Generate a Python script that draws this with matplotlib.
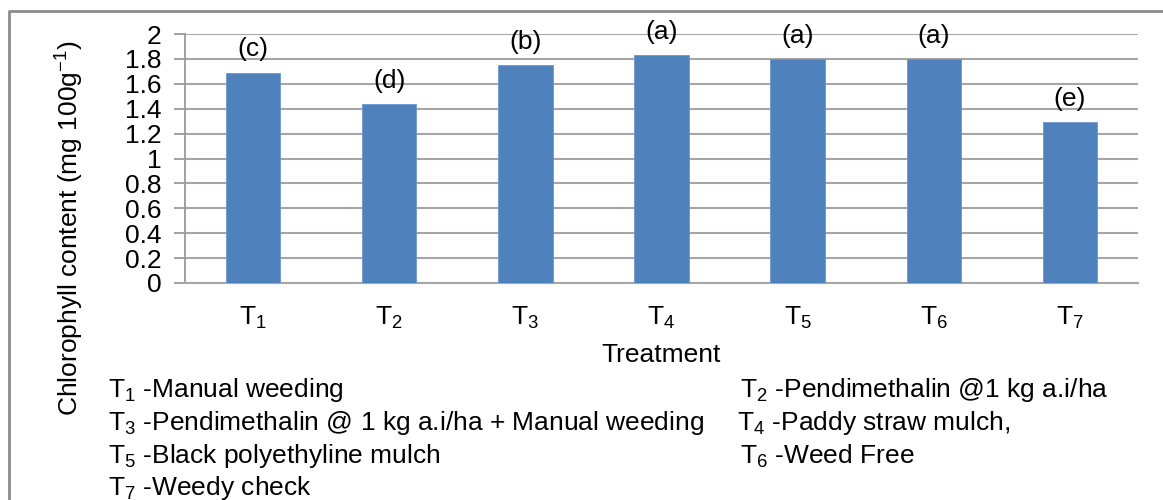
import numpy as np
import matplotlib
matplotlib.use('Agg')
import matplotlib.pyplot as plt
from matplotlib.lines import Line2D

plt.rcParams['font.family'] = ['Liberation Sans', 'DejaVu Sans']
plt.rcParams['mathtext.fontset'] = 'custom'
plt.rcParams['mathtext.rm'] = 'Liberation Sans'
plt.rcParams['mathtext.it'] = 'Liberation Sans:italic'

# data
behandeling = ['T$_1$', 'T$_2$', 'T$_3$', 'T$_4$', 'T$_5$', 'T$_6$', 'T$_7$']
chlorofyl = [1.69, 1.44, 1.75, 1.83, 1.80, 1.80, 1.29]
letters = ['(c)', '(d)', '(b)', '(a)', '(a)', '(a)', '(e)']
yticks = [0, 0.2, 0.4, 0.6, 0.8, 1, 1.2, 1.4, 1.6, 1.8, 2]
ytick_labels = ['0', '0.2', '0.4', '0.6', '0.8', '1', '1.2', '1.4', '1.6', '1.8', '2']

legenda_links = ['T$_1$ -Manual weeding',
                 'T$_3$ -Pendimethalin @ 1 kg a.i/ha + Manual weeding',
                 'T$_5$ -Black polyethyline mulch',
                 'T$_7$ -Weedy check']
legenda_rechts = ['T$_2$ -Pendimethalin @1 kg a.i/ha',
                  'T$_4$ -Paddy straw mulch,',
                  'T$_6$ -Weed Free']

W, H = 1163, 500
fs = 19
fig = plt.figure(figsize=(W / 100, H / 100), dpi=100)
ax = fig.add_axes([185 / W, 1 - 283 / H, (1138 - 185) / W, (283 - 34) / H])

x = np.arange(len(behandeling))
ax.bar(x, chlorofyl, width=0.4, color='#4F81BD', edgecolor='#6F97CC', linewidth=0.6, zorder=3)

for xi, yi, lab in zip(x, chlorofyl, letters):
    ax.annotate(lab, (xi, yi), xytext=(0, 8), textcoords='offset points',
                ha='center', va='bottom', fontsize=fs, zorder=4)

ax.set_xlim(-0.5, 6.5)
ax.set_ylim(0, 2)
ax.set_yticks(yticks)
ax.set_yticklabels(ytick_labels, fontsize=fs)
ax.set_xticks(x)
ax.set_xticklabels(behandeling, fontsize=fs)
ax.tick_params(axis='x', length=0, pad=16)
ax.tick_params(axis='y', length=8, width=1.3, color='#9a9a9a', pad=9)
ax.yaxis.grid(True, color='#a6a6a6', linewidth=1.5, zorder=0)
ax.set_axisbelow(True)
for kant in ['top', 'right']:
    ax.spines[kant].set_visible(False)
ax.spines['left'].set_color('#9a9a9a')
ax.spines['left'].set_linewidth(1.3)
ax.spines['bottom'].set_color('#a6a6a6')
ax.spines['bottom'].set_linewidth(1.5)

fig.text(661 / W, 1 - 355 / H, 'Treatment', ha='center', va='center', fontsize=fs)
fig.text(70 / W, 1 - 228 / H, 'Chlorophyll content (mg 100g$^{-1}$)', rotation=90,
         ha='center', va='center', fontsize=fs)

# legenda tekst onder de grafiek
regels_y = [390, 423, 456, 488]
for tekst, yy in zip(legenda_links, regels_y):
    fig.text(108 / W, 1 - yy / H, tekst, ha='left', va='center', fontsize=fs)
rechts_x = [740, 737, 740]
for tekst, xx, yy in zip(legenda_rechts, rechts_x, regels_y):
    fig.text(xx / W, 1 - yy / H, tekst, ha='left', va='center', fontsize=fs)

# kader om de figuur
fig.add_artist(Line2D([9 / W, 9 / W, 1.0], [0.0, 1 - 11 / H, 1 - 11 / H],
                      transform=fig.transFigure, color='#8c8c8c', linewidth=2))

fig.savefig('out.png', dpi=100)
